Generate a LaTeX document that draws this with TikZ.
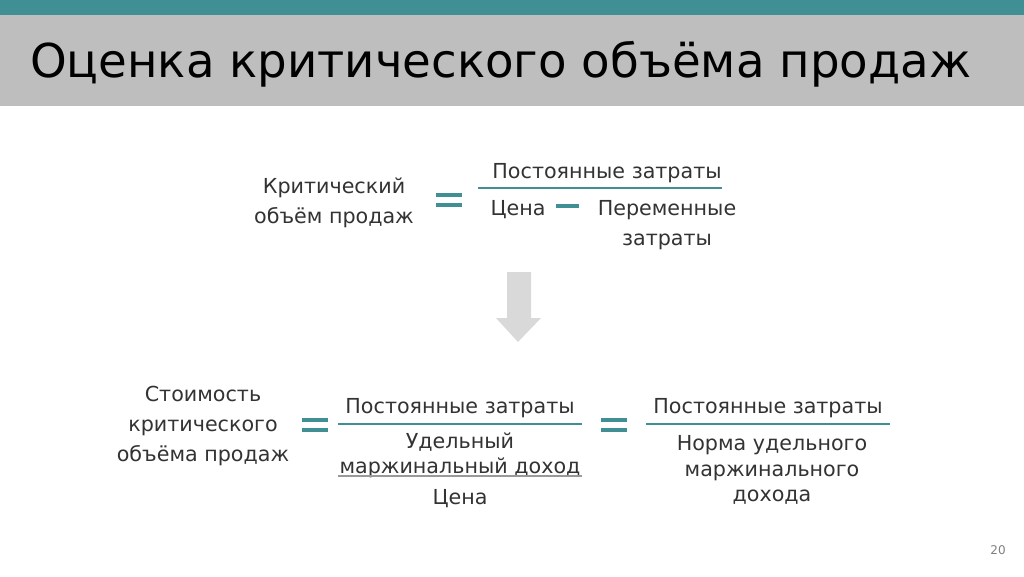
\documentclass[tikz,border=0pt]{standalone}
\usepackage{fontspec}
\setmainfont{DejaVu Sans}
\definecolor{teal}{HTML}{3F8F94}
\definecolor{band}{HTML}{BEBEBE}
\definecolor{txt}{HTML}{333333}
\definecolor{arr}{HTML}{D9D9D9}
\tikzset{
  lbl/.style={text=txt, font=\fontsize{15.5}{22.5}\selectfont, align=center, inner sep=0pt},
  lblb/.style={text=txt, font=\fontsize{15.5}{19}\selectfont, align=center, inner sep=0pt},
  bar/.style={teal, line width=2pt},
  grbar/.style={gray!80, line width=2pt},
  eqbar/.style={teal, line width=3pt}
}
\newcommand{\eqsign}[2]{\draw[eqbar] (#1-13,#2-5) -- (#1+13,#2-5); \draw[eqbar] (#1-13,#2+5) -- (#1+13,#2+5);}
\begin{document}
\begin{tikzpicture}[x=0.75pt,y=-0.75pt]
\useasboundingbox (0,0) rectangle (1024,576);
\fill[white] (0,0) rectangle (1024,576);
\fill[teal] (0,0) rectangle (1024,15);
\fill[band] (0,15) rectangle (1024,106);
\node[anchor=west, text=black, font=\fontsize{35}{40}\selectfont, inner sep=0pt] (title) at (30,64) {Оценка критического объёма продаж};
% first formula
\node[lbl] (crit) at (334,203) {Критический\\объём продаж};
\eqsign{449}{200}
\node[lbl] (fixa) at (607,173) {Постоянные затраты};
\draw[bar] (478,188) -- (722,188);
\node[lbl] (price) at (518,210) {Цена};
\draw[eqbar] (556,206) -- (579,206);
\node[lbl] (var) at (667,225) {Переменные\\затраты};
% arrow
\fill[arr] (507,272) -- (531,272) -- (531,318) -- (541,318) -- (518,342) -- (496,318) -- (507,318) -- cycle;
% second formula
\node[lbl] (cost) at (203,426) {Стоимость\\критического\\объёма продаж};
\eqsign{315}{425}
\node[lbl] (fixb) at (460,408) {Постоянные затраты};
\draw[bar] (338,424) -- (582,424);
\node[lblb] (margin) at (460,455) {Удельный\\маржинальный доход};
\draw[grbar] (338,476) -- (582,476);
\node[lbl] (priceb) at (460,499) {Цена};
\eqsign{614}{425}
\node[lbl] (fixc) at (768,408) {Постоянные затраты};
\draw[bar] (646,424) -- (890,424);
\node[lblb] (rate) at (772,470) {Норма удельного\\маржинального\\дохода};
\node[text=gray, font=\fontsize{9}{10}\selectfont, inner sep=0pt] (page) at (998,550) {20};
\end{tikzpicture}
\end{document}
